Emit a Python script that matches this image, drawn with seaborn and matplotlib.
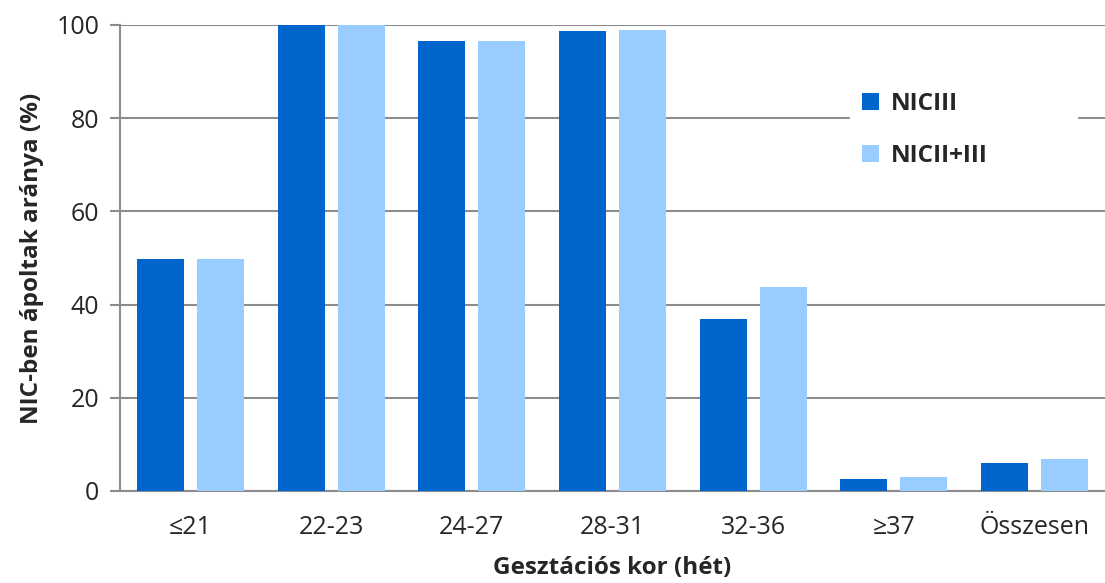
import matplotlib
matplotlib.use("Agg")
import matplotlib.pyplot as plt
import seaborn as sns
import pandas as pd

categories = ["≤21", "22-23", "24-27", "28-31", "32-36", "≥37", "Összesen"]
nicIII = [49.8, 100, 96.6, 98.8, 36.9, 2.6, 6.0]
nicII_III = [49.8, 100, 96.6, 99.0, 43.8, 3.0, 6.9]
series = ["NICIII", "NICII+III"]

df = pd.DataFrame({
    "kor": categories * 2,
    "arany": nicIII + nicII_III,
    "csoport": [series[0]] * 7 + [series[1]] * 7,
})

sns.set_style("white")
plt.rcParams["font.family"] = ["Open Sans", "DejaVu Sans"]

fig = plt.figure(figsize=(11.05, 5.83), dpi=100)
ax = fig.add_axes([120 / 1105, 1 - 491 / 583, 1 - 120 / 1105, (491 - 25) / 583])

sns.barplot(data=df, x="kor", y="arany", hue="csoport", order=categories,
            hue_order=series, palette=["#0066CC", "#99CCFF"], saturation=1,
            width=0.853, gap=0.217, ax=ax, zorder=3, linewidth=0)

ax.set_ylim(0, 100)
ax.set_xlim(-0.5, 6.5)
ax.set_yticks([0, 20, 40, 60, 80, 100])
ax.yaxis.grid(True, color="#8C8C8C", linewidth=1.5, zorder=0)
ax.set_axisbelow(True)
for s in ["top", "right"]:
    ax.spines[s].set_visible(False)
for s in ["left", "bottom"]:
    ax.spines[s].set_color("#8C8C8C")
    ax.spines[s].set_linewidth(1.5)

# category separators on the x axis
ax.set_xticks([i + 0.5 for i in range(-1, 7)], minor=True)
ax.tick_params(axis="x", which="major", length=0, pad=17, labelsize=18)
ax.tick_params(axis="x", which="minor", length=7, color="#8C8C8C", width=1.5)
ax.tick_params(axis="y", length=7, color="#8C8C8C", width=1.5, labelsize=18, pad=8, left=True)

ax.set_xlabel("Gesztációs kor (hét)", fontsize=17.5, fontweight="bold", labelpad=12)
ax.set_ylabel("NIC-ben ápoltak aránya (%)", fontsize=17.5, fontweight="bold", labelpad=9)

leg = ax.legend(loc="center left", bbox_to_anchor=(0.741, 0.674, 0.231, 0.2), mode="expand",
                frameon=True, fancybox=False, edgecolor="white", framealpha=1,
                fontsize=17.5, handlelength=0.7, handleheight=0.7,
                labelspacing=1.15, handletextpad=0.5, borderpad=0.5, borderaxespad=0)
for t in leg.get_texts():
    t.set_fontweight("bold")

fig.savefig("out.png", dpi=100)
